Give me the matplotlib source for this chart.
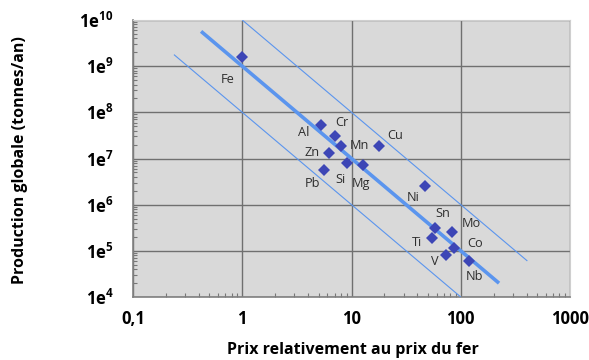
import numpy as np
import matplotlib
matplotlib.use("Agg")
import matplotlib.pyplot as plt
from matplotlib.ticker import LogLocator, FixedLocator, NullFormatter

plt.rcParams['font.family'] = ['Open Sans', 'DejaVu Sans']
plt.rcParams['mathtext.fontset'] = 'custom'
plt.rcParams['mathtext.rm'] = 'Open Sans'
plt.rcParams['mathtext.bf'] = 'Open Sans:bold'

# Data
metals = ['Fe', 'Al', 'Cr', 'Mn', 'Zn', 'Cu', 'Pb', 'Si', 'Mg', 'Ni',
          'Sn', 'Ti', 'Mo', 'Co', 'V', 'Nb']
price = [1.0, 5.3, 7.1, 8.0, 6.2, 18, 5.6, 9.0, 12.8, 47,
         58, 54, 84, 87, 73, 120]
production = [1.6e9, 5.2e7, 3.1e7, 1.9e7, 1.33e7, 1.9e7, 5.6e6, 7.8e6, 7.4e6, 2.5e6,
              3.1e5, 1.9e5, 2.6e5, 1.15e5, 8.2e4, 6.1e4]
# label offsets in pixels (dx, dy) relative to the marker
label_offsets = [(-15, -23), (-18, -7), (7, 13), (19, 0), (-17, 0), (16, 10),
                 (-11, -13), (-6, -16), (-2, -19), (-12, -11),
                 (8, 15), (-15, -5), (19, 8), (21, 5), (-11, -7), (5, -16)]

# Trend lines: production = k / price^2
main_k, main_x = 1e9, [0.42, 224]
upper_k, upper_x = 1e10, [1.0, 407]
lower_k, lower_x = 1e8, [0.237, 100]

xticks = [0.1, 1, 10, 100, 1000]
xticklabels = ['0,1', '1', '10', '100', '1000']
yticks = [1e4, 1e5, 1e6, 1e7, 1e8, 1e9, 1e10]
yticklabels = [r'$\mathbf{1e^{%d}}$' % e for e in range(4, 11)]

fig = plt.figure(figsize=(5.89, 3.60), dpi=100)
ax = fig.add_axes([133/589, 1-297/360, (570-133)/589, (297-20)/360])
ax.set_xscale('log')
ax.set_yscale('log')
ax.set_xlim(0.1, 1000)
ax.set_ylim(1e4, 1e10)
ax.set_facecolor('#d9d9d9')

line_col = '#5b95ee'
for k, xs, lw in [(main_k, main_x, 2.6), (upper_k, upper_x, 0.8), (lower_k, lower_x, 0.8)]:
    xs = np.array(xs, dtype=float)
    ax.plot(xs, k / xs**2, color=line_col, lw=lw, solid_capstyle='butt', zorder=3)

ax.plot(price, production, 'D', color='#3d46b6', markersize=6.2, markeredgewidth=0, zorder=4)
for m, x, y, (dx, dy) in zip(metals, price, production, label_offsets):
    ax.annotate(m, (x, y), xytext=(dx, dy), textcoords='offset pixels',
                ha='center', va='center', fontsize=9.2, color='#2e2e2e', zorder=5)

ax.xaxis.set_major_locator(FixedLocator(xticks))
ax.set_xticklabels(xticklabels, fontsize=12, fontweight='bold')
ax.yaxis.set_major_locator(FixedLocator(yticks))
ax.set_yticklabels(yticklabels, fontsize=12)
ax.xaxis.set_minor_locator(LogLocator(base=10, subs=np.arange(2, 10)))
ax.yaxis.set_minor_locator(LogLocator(base=10, subs=np.arange(2, 10)))
ax.xaxis.set_minor_formatter(NullFormatter())
ax.yaxis.set_minor_formatter(NullFormatter())
ax.tick_params(which='major', length=0)
ax.tick_params(axis='x', which='major', pad=9)
ax.tick_params(axis='y', which='major', pad=14)
ax.tick_params(which='minor', direction='in', length=3, color='#777777', width=0.8)
ax.grid(True, which='major', color='#707070', lw=1.0)
ax.set_axisbelow(True)
for s in ['top', 'right']:
    ax.spines[s].set_color('#cfcfcf')
for s in ['left', 'bottom']:
    ax.spines[s].set_color('#808080')
    ax.spines[s].set_linewidth(1.2)

fig.text(353/589, 1-350/360, 'Prix relativement au prix du fer', ha='center', va='center',
         fontsize=11.5, fontweight='bold')
fig.text(20/589, 1-160/360, 'Production globale (tonnes/an)', ha='center', va='center',
         rotation=90, fontsize=11.5, fontweight='bold')

fig.savefig('out.png', dpi=100)
